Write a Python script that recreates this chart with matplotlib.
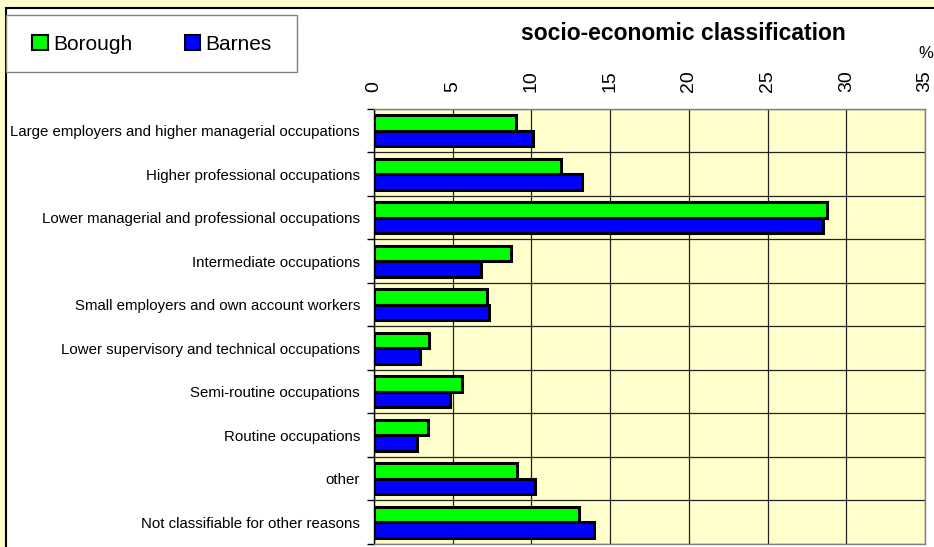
import matplotlib
matplotlib.use("Agg")
import matplotlib.pyplot as plt
from matplotlib.patches import Rectangle, Patch
import numpy as np

plt.rcParams['font.family'] = ['Liberation Sans', 'DejaVu Sans']

categories = [
    "Large employers and higher managerial occupations",
    "Higher professional occupations",
    "Lower managerial and professional occupations",
    "Intermediate occupations",
    "Small employers and own account workers",
    "Lower supervisory and technical occupations",
    "Semi-routine occupations",
    "Routine occupations",
    "other",
    "Not classifiable for other reasons",
]
borough = [9.0, 11.9, 28.8, 8.7, 7.2, 3.5, 5.6, 3.4, 9.1, 13.0]
barnes = [10.1, 13.2, 28.5, 6.8, 7.3, 2.9, 4.8, 2.7, 10.2, 14.0]
xticks = [0, 5, 10, 15, 20, 25, 30, 35]

W, H = 934, 547
fig = plt.figure(figsize=(W / 100, H / 100), dpi=100, facecolor='#FFFFCC')

# white chart area with black frame (top/left visible)
fig.patches.append(Rectangle((6 / W, -0.05), 1.1, 1 - 8 / H + 0.05,
                             transform=fig.transFigure, facecolor='white',
                             edgecolor='black', linewidth=1.5, zorder=-10))

ax = fig.add_axes([374 / W, 1 - 544 / H, (925 - 374) / W, (544 - 109) / H])
ax.set_facecolor('#FFFFCC')

y = np.arange(len(categories))
h = 0.36
ax.barh(y - 0.18, borough, height=h, color='#00FF00', edgecolor='black', linewidth=2.2, zorder=3)
ax.barh(y + 0.18, barnes, height=h, color='#0000FF', edgecolor='black', linewidth=2.2, zorder=3)

ax.set_xlim(0, 35)
ax.set_ylim(len(categories) - 0.5, -0.5)

ax.xaxis.tick_top()
ax.set_xticks(xticks)
ax.set_xticklabels([str(v) for v in xticks], rotation=90, fontsize=14)
ax.tick_params(axis='x', length=0, pad=12)
ax.grid(axis='x', color='#222222', linewidth=0.9, zorder=1)

ax.set_yticks(y)
ax.set_yticklabels(categories, fontsize=10.8)
ax.tick_params(axis='y', which='major', length=0, pad=10)
ax.set_yticks(np.arange(len(categories) + 1) - 0.5, minor=True)
ax.tick_params(axis='y', which='minor', length=5, width=1, color='black')
ax.grid(axis='y', which='minor', color='#222222', linewidth=0.9, zorder=1)
ax.set_axisbelow(True)

for s in ['top', 'right', 'bottom']:
    ax.spines[s].set_color('#808080')
    ax.spines[s].set_linewidth(1)
ax.spines['left'].set_color('black')
ax.spines['left'].set_linewidth(1)

fig.text(683 / W, 1 - 34 / H, "socio-economic classification", fontsize=16.5,
         fontweight='bold', ha='center', va='center')
fig.text(926 / W, 1 - 53 / H, "%", fontsize=12, ha='center', va='center')

# legend box
fig.patches.append(Rectangle((6 / W, 1 - 72 / H), 291 / W, 57 / H,
                             transform=fig.transFigure, facecolor='white',
                             edgecolor='#808080', linewidth=1, zorder=-5))
handles = [Patch(facecolor='#00FF00', edgecolor='black', linewidth=1.5, label='Borough'),
           Patch(facecolor='#0000FF', edgecolor='black', linewidth=1.5, label='Barnes')]
fig.legend(handles=handles, loc='center', bbox_to_anchor=(152 / W, 1 - 44 / H),
           ncol=2, frameon=False, fontsize=15, handlelength=0.75, handleheight=0.75,
           handletextpad=0.25, columnspacing=2.5, borderpad=0)

fig.savefig('out.png', dpi=100, facecolor=fig.get_facecolor())
